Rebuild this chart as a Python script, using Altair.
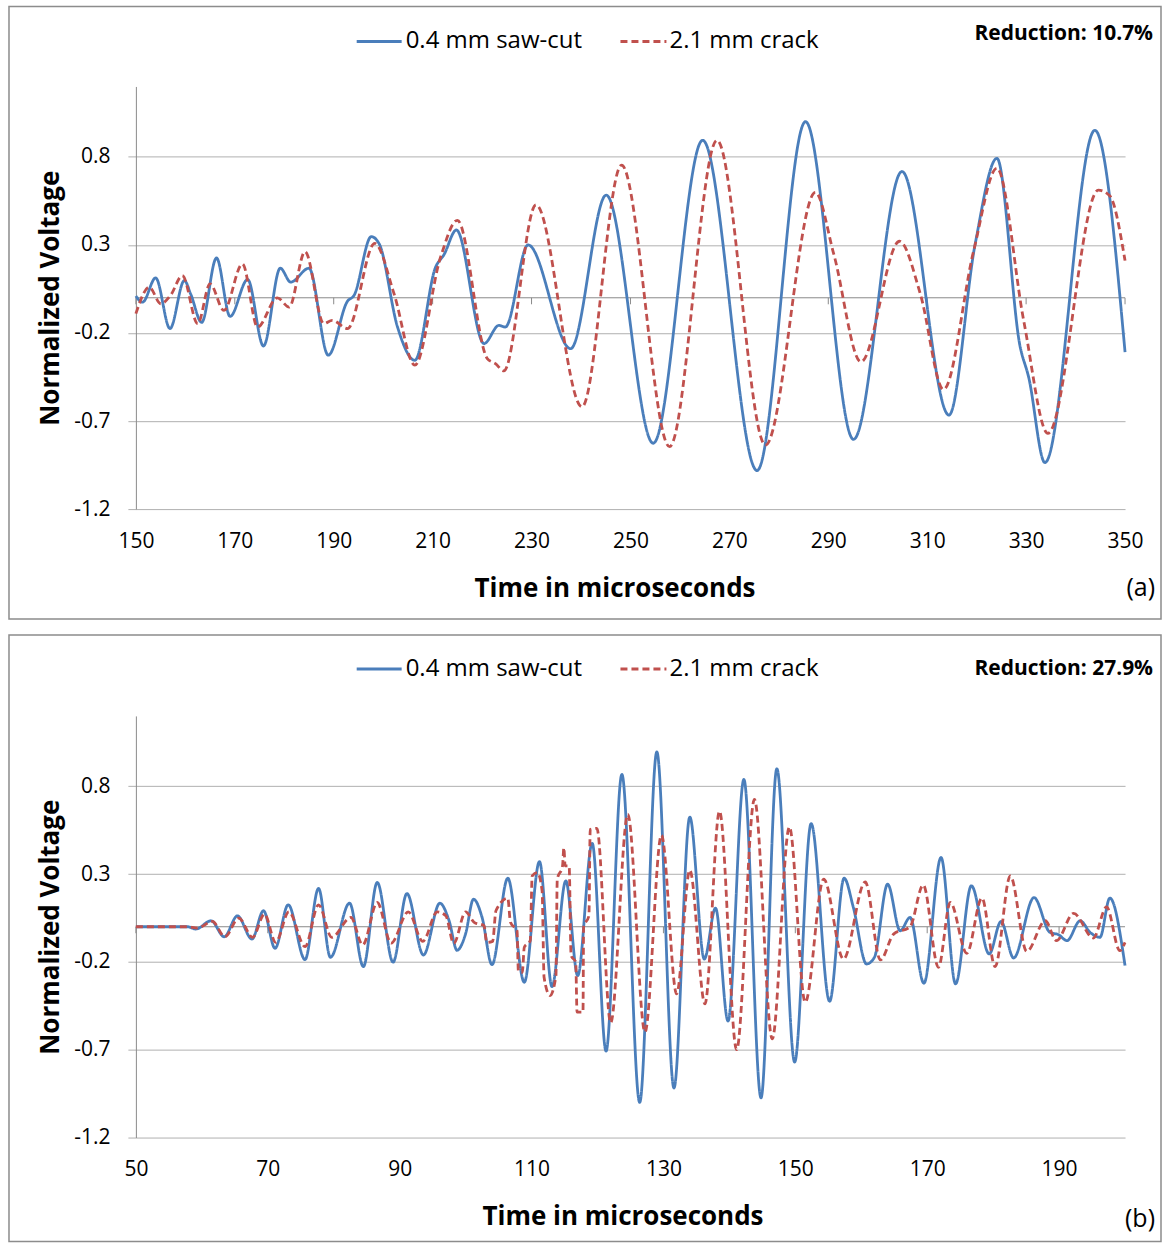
import altair as alt
import pandas as pd

FONT = "Open Sans"
BLUE = "#4A7EBB"
RED = "#C0504D"
GRID = "#B0B0B0"
AXIS = "#8A8A8A"

series_names = ["0.4 mm saw-cut", "2.1 mm crack"]
y_ticks = [-1.2, -0.7, -0.2, 0.3, 0.8]

# ---------------- panel (a) ----------------
a_x_ticks = [150, 170, 190, 210, 230, 250, 270, 290, 310, 330, 350]
a_saw_t = [150, 151.35, 154.0, 156.9, 159.8, 161.1, 163.3, 166.3, 169.05, 172.6, 175.8, 179.2, 181.3, 185.0,
           188.9, 192.8, 194.1, 197.6, 199.2, 202.9, 206.4, 210.6, 212.3, 214.8, 220.4, 223.4, 224.7, 229.3,
           237.9, 245.1, 254.6, 264.6, 275.6, 285.4, 295.1, 304.9, 314.4, 319.7, 324.1, 328.8, 330.5, 333.8,
           343.9, 350]
a_saw_v = [0.01, -0.025, 0.113, -0.175, 0.098, 0.02, -0.14, 0.226, -0.106, 0.104, -0.274, 0.168, 0.089, 0.168,
           -0.326, -0.019, 0.013, 0.347, 0.306, -0.166, -0.355, 0.174, 0.245, 0.385, -0.26, -0.157, -0.166, 0.3,
           -0.289, 0.583, -0.826, 0.894, -0.981, 1.0, -0.804, 0.717, -0.666, 0.306, 0.792, -0.279, -0.449, -0.936,
           0.951, -0.308]
a_crack_t = [150, 152.7, 155.05, 157.0, 159.4, 162.5, 165.0, 167.8, 171.55, 174.6, 178.6, 181.0, 184.2, 188.0,
             189.7, 192.8, 198.3, 202.2, 206.4, 211.6, 215.0, 221.05, 222.7, 224.4, 230.9, 240.2, 248.2, 257.9,
             267.5, 277.3, 287.4, 291.1, 296.6, 304.4, 308.6, 313.3, 319.4, 324.1, 329.5, 334.4, 344.6, 346.9, 350]
a_crack_v = [-0.09, 0.06, -0.034, 0.013, 0.126, -0.147, 0.079, -0.072, 0.192, -0.166, 0.0, -0.053, 0.262, -0.147,
             -0.128, -0.175, 0.309, 0.023, -0.383, 0.23, 0.44, -0.345, -0.374, -0.415, 0.528, -0.619, 0.753, -0.845,
             0.894, -0.836, 0.598, 0.249, -0.364, 0.321, 0.023, -0.521, 0.268, 0.736, -0.128, -0.77, 0.611, 0.58, 0.211]

# ---------------- panel (b) ----------------
b_x_ticks = [50, 70, 90, 110, 130, 150, 170, 190]
b_saw_t = [50, 57.8, 59.1, 61.4, 63.4, 65.4, 67.6, 69.35, 71.1, 73.1, 75.65, 77.7, 79.5, 82.4, 84.5, 86.6, 89.0,
           91.1, 93.6, 96.1, 97.5, 98.7, 100.0, 101.2, 102.5, 104.0, 106.4, 108.9, 111.2, 113.1, 115.2, 117.0,
           119.2, 121.3, 123.7, 126.4, 129.0, 131.6, 134.0, 136.2, 137.9, 139.8, 142.2, 144.8, 147.2, 149.9,
           152.4, 155.2, 157.4, 158.8, 160.8, 162.0, 164.0, 165.9, 167.4, 169.5, 172.1, 174.3, 176.7, 179.4,
           181.2, 183.1, 186.2, 188.6, 189.9, 191.2, 193.2, 194.7, 196.2, 197.7, 200]
b_saw_v = [0, 0, -0.013, 0.034, -0.057, 0.062, -0.07, 0.091, -0.123, 0.125, -0.187, 0.218, -0.174, 0.134, -0.227,
           0.252, -0.202, 0.189, -0.161, 0.134, 0.034, -0.134, -0.04, 0.157, 0.053, -0.216, 0.276, -0.316, 0.371,
           -0.341, 0.261, -0.278, 0.475, -0.708, 0.867, -1.0, 0.995, -0.918, 0.624, -0.184, 0.106, -0.537, 0.838,
           -0.974, 0.899, -0.77, 0.587, -0.424, 0.276, 0.11, -0.212, -0.174, 0.242, -0.023, 0.053, -0.322, 0.394,
           -0.325, 0.233, -0.155, 0.03, -0.178, 0.166, -0.032, -0.045, -0.079, 0.034, -0.032, -0.06, 0.163, -0.221]
b_crack_t = [50, 57.8, 59.3, 61.6, 63.5, 65.6, 67.7, 69.5, 71.2, 73.2, 75.65, 77.7, 79.7, 82.6, 84.4, 86.6, 88.7,
             91.3, 93.5, 95.7, 97.0, 98.2, 100.0, 101.3, 102.8, 103.2, 104.1, 104.6, 106.4, 106.8, 107.8, 108.0,
             108.6, 108.9, 109.8, 110.1, 110.9, 111.6, 111.9, 112.8, 113.7, 113.9, 114.7, 114.9, 115.1, 115.7,
             116.0, 116.7, 116.9, 117.8, 117.9, 118.7, 118.9, 119.9, 122.0, 124.6, 127.2, 129.7, 132.0, 134.0,
             136.3, 138.5, 141.1, 143.8, 146.5, 149.1, 151.5, 154.3, 157.3, 160.6, 162.9, 164.9, 167.4, 169.4,
             171.7, 173.5, 176.0, 178.3, 180.3, 182.6, 185.1, 187.9, 189.6, 192.2, 195.2, 197.2, 199.2, 200]
b_crack_v = [0, 0, -0.008, 0.03, -0.057, 0.049, -0.06, 0.072, -0.089, 0.085, -0.113, 0.125, -0.06, 0.053, -0.104,
             0.138, -0.093, 0.085, -0.083, 0.085, 0.062, -0.095, 0.085, 0.025, 0.006, -0.089, -0.083, 0.091, 0.163,
             0.025, -0.023, -0.25, -0.26, -0.117, -0.08, 0.29, 0.308, 0.204, -0.288, -0.392, -0.278, 0.27, 0.346,
             0.45, 0.346, 0.346, -0.165, -0.2, -0.486, -0.486, 0.0, 0.062, 0.554, 0.56, -0.547, 0.64, -0.6, 0.522,
             -0.382, 0.322, -0.439, 0.658, -0.7, 0.725, -0.638, 0.568, -0.43, 0.271, -0.184, 0.255, -0.189, -0.042,
             0.0, 0.238, -0.231, 0.138, -0.151, 0.163, -0.227, 0.289, -0.14, 0.034, -0.079, 0.076, -0.064, 0.113,
             -0.136, -0.089]


def panel(saw_t, saw_v, crack_t, crack_v, xdom, xticks, h, frame, leg_y, red_y, red_text, letter, letter_y,
          xtitle_x):
    df = pd.DataFrame({
        "t": saw_t + crack_t,
        "v": saw_v + crack_v,
        "series": [series_names[0]] * len(saw_t) + [series_names[1]] * len(crack_t),
    })
    xs = alt.Scale(domain=xdom, nice=False, zero=False)
    ys = alt.Scale(domain=[-1.2, 1.2], nice=False, zero=False)
    one = alt.Data(values=[{"k": 1}])

    xaxis = alt.Axis(
        values=xticks, format="d", title="Time in microseconds", grid=False, domain=False,
        ticks=False, tickSize=0, labelFontSize=21, labelFont=FONT, labelColor="#000000",
        labelPadding=32, labelBaseline="middle", labelFlush=False,
        titleFontSize=26, titleFont=FONT, titleFontWeight="bold", titleColor="#000000",
        titleX=xtitle_x, titleAlign="center", titleY=79, titleBaseline="middle")
    yaxis = alt.Axis(
        values=y_ticks, labelExpr="replace(format(datum.value, '.1f'), '\u2212', '-')",
        title="Normalized Voltage", grid=True, gridColor=GRID, gridWidth=1,
        domain=True, domainColor=AXIS, domainWidth=1, ticks=True, tickSize=8, tickColor=GRID,
        labelFontSize=21, labelFont=FONT, labelColor="#000000", labelPadding=18,
        titleFontSize=26, titleFont=FONT, titleFontWeight="bold", titleColor="#000000",
        titleX=-85, titleBaseline="middle")

    fr = alt.Chart(one).mark_rect(fillOpacity=0, stroke="#8C8C8C", strokeWidth=1.5).encode(
        x=alt.value(frame[0]), x2=alt.value(frame[1]), y=alt.value(frame[2]), y2=alt.value(frame[3]))

    zero = alt.Chart(one).mark_rule(color=AXIS, strokeWidth=1).encode(
        y=alt.YDatum(0, scale=ys, axis=yaxis))

    tk = alt.Chart(pd.DataFrame({"tick": xticks})).mark_rule(color=AXIS, strokeWidth=1).encode(
        x=alt.X("tick:Q", scale=xs, axis=xaxis),
        y=alt.YDatum(0, scale=ys, axis=yaxis),
        y2=alt.Y2Datum(-0.037))

    lines = alt.Chart(df).mark_line(interpolate="monotone", strokeWidth=2.8).encode(
        x=alt.X("t:Q", scale=xs, axis=xaxis),
        y=alt.Y("v:Q", scale=ys, axis=yaxis),
        color=alt.Color("series:N", scale=alt.Scale(domain=series_names, range=[BLUE, RED]), legend=None),
        strokeDash=alt.StrokeDash("series:N", scale=alt.Scale(domain=series_names, range=[[1, 0], [7, 4]]),
                                  legend=None),
    )

    leg1 = alt.Chart(one).mark_rule(color=BLUE, strokeWidth=3).encode(
        x=alt.value(221), x2=alt.value(266), y=alt.value(leg_y))
    leg2 = alt.Chart(one).mark_rule(color=RED, strokeWidth=3, strokeDash=[7, 4]).encode(
        x=alt.value(485), x2=alt.value(531), y=alt.value(leg_y))
    t1 = alt.Chart(one).mark_text(text=series_names[0], align="left", baseline="middle", fontSize=24,
                                  font=FONT, color="#000000").encode(x=alt.value(270), y=alt.value(leg_y))
    t2 = alt.Chart(one).mark_text(text=series_names[1], align="left", baseline="middle", fontSize=24,
                                  font=FONT, color="#000000").encode(x=alt.value(534), y=alt.value(leg_y))
    rt = alt.Chart(one).mark_text(text=red_text, align="right", baseline="middle", fontSize=21,
                                  fontWeight="bold", font=FONT, color="#000000").encode(
        x=alt.value(1018), y=alt.value(red_y))
    lt = alt.Chart(one).mark_text(text=letter, align="right", baseline="middle", fontSize=25,
                                  font=FONT, color="#000000").encode(
        x=alt.value(1020), y=alt.value(letter_y))

    return alt.layer(fr, zero, tk, lines, leg1, leg2, t1, t2, rt, lt).properties(width=990, height=h)


pa = panel(a_saw_t, a_saw_v, a_crack_t, a_crack_v, [150, 350], a_x_ticks, 423,
           (-127, 1026, -80, 533), -45, -53, "Reduction: 10.7%", "(a)", 502, 479)
pb = panel(b_saw_t, b_saw_v, b_crack_t, b_crack_v, [50, 200], b_x_ticks, 422,
           (-127, 1026, -81, 526), -47, -47, "Reduction: 27.9%", "(b)", 504, 487)

chart = alt.vconcat(pa, pb, spacing=207, bounds="flush").properties(
    padding={"left": 8, "top": 5, "right": 1, "bottom": 2},
    background="white",
).configure_view(stroke=None)

chart.save("out.html", embed_options={"renderer": "svg", "actions": False})
